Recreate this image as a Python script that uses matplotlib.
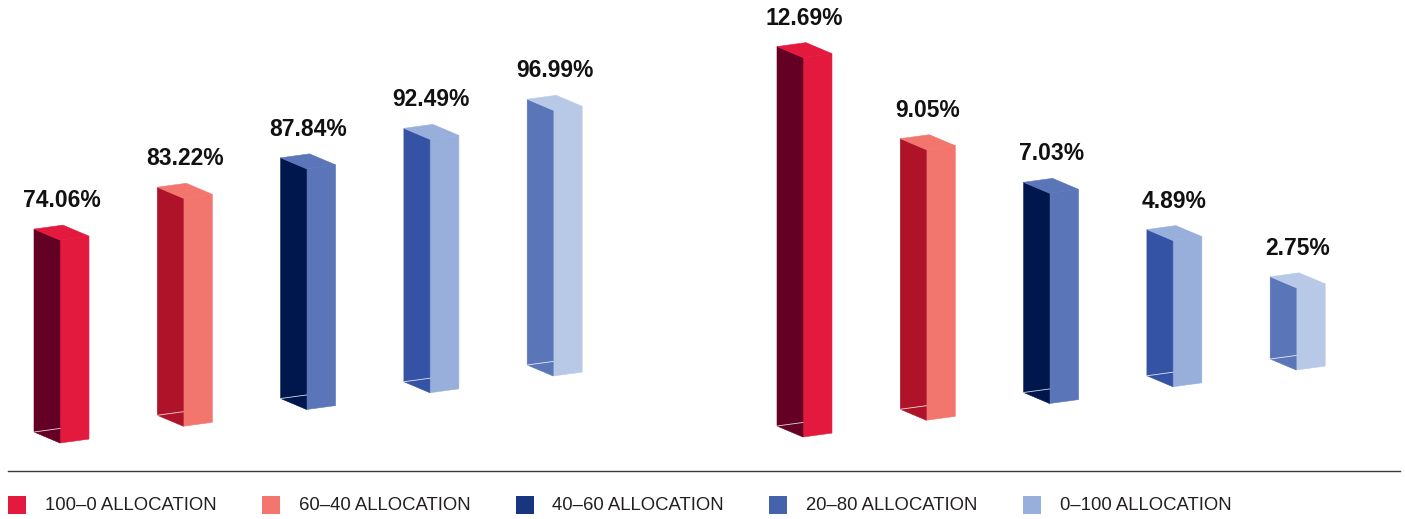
import numpy as np
import matplotlib
matplotlib.use("Agg")
import matplotlib.pyplot as plt
from matplotlib.patches import Polygon, Rectangle
from matplotlib.lines import Line2D
from matplotlib.transforms import Affine2D, IdentityTransform

allocations = ["100–0 ALLOCATION", "60–40 ALLOCATION", "40–60 ALLOCATION",
               "20–80 ALLOCATION", "0–100 ALLOCATION"]
left_values = [74.06, 83.22, 87.84, 92.49, 96.99]
right_values = [12.69, 9.05, 7.03, 4.89, 2.75]

front_colors = ["#E3193E", "#F2766D", "#5A76B8", "#99AFDB", "#B8C9E8"]
side_colors = ["#640024", "#AE1329", "#00174D", "#3553A5", "#5A76B8"]
legend_colors = ["#E31A3E", "#F2766D", "#17367F", "#4563AD", "#99AFDB"]

W, H = 1405, 519
BAR_W = 0.235          # front face width in bar steps
RISE = 16.75           # px the floor climbs per bar
DEPTH = np.array([-26.0, 11.0])  # px offset of the back faces

fig = plt.figure(figsize=(W / 100, H / 100), dpi=100)


def px_axes(x0, y0, w, h):
    return fig.add_axes([x0 / W, y0 / H, w / W, h / H])


def draw_group(ax, values, ymax):
    ax.set_xlim(-0.4, 4.5)
    ax.set_ylim(0, ymax)
    ax.axis("off")
    px_per_unit = ax.bbox.height / ymax
    k = RISE / px_per_unit
    shear = Affine2D(np.array([[1, 0, 0], [k, 1, 0], [0, 0, 1]], dtype=float))
    trans = shear + ax.transData
    for i, v in enumerate(values):
        pts = trans.transform([[i, 0], [i + BAR_W, 0], [i + BAR_W, v], [i, v]])
        fl_b, fr_b, fr_t, fl_t = pts
        faces = [
            (pts, front_colors[i]),
            ([fl_b, fl_t, fl_t + DEPTH, fl_b + DEPTH], side_colors[i]),
            ([fl_t, fr_t, fr_t + DEPTH, fl_t + DEPTH], front_colors[i]),
        ]
        for verts, color in faces:
            ax.add_patch(Polygon(verts, closed=True, transform=IdentityTransform(),
                                 facecolor=color, edgecolor=color, lw=0.4,
                                 clip_on=False))
        # back edge of the floor showing through
        start = fl_b + DEPTH
        t = -DEPTH[0] / (fr_b[0] - fl_b[0])
        end = start + t * (fr_b - fl_b)
        ax.add_line(Line2D([start[0], end[0]], [start[1], end[1]], color="white",
                           lw=0.6, alpha=0.85, transform=IdentityTransform(),
                           clip_on=False))
        cx = ((fl_t + DEPTH)[0] + fr_t[0]) / 2
        top = (fr_t + DEPTH)[1]
        ax.text(cx, top + 18, f"{v:.2f}%", transform=IdentityTransform(),
                ha="center", va="baseline", fontsize=16.5, fontweight="bold",
                color="#111111", family=["Liberation Sans", "DejaVu Sans"])


ax_left = px_axes(60 - 0.4 * 123.3, 76, 4.9 * 123.3, 274)
draw_group(ax_left, left_values, 100)

ax_right = px_axes(803 - 0.4 * 123.3, 82, 4.9 * 123.3, 14 * 29.9)
draw_group(ax_right, right_values, 14)

# divider above the legend
fig.add_artist(Line2D([8 / W, 1400 / W], [(H - 471) / H] * 2,
                      color="#3A3A3A", lw=1.0))

for j, (label, color) in enumerate(zip(allocations, legend_colors)):
    x = 8 + 253.75 * j
    fig.add_artist(Rectangle((x / W, (H - 514) / H), 18 / W, 18 / H,
                             transform=fig.transFigure, facecolor=color,
                             edgecolor="none"))
    fig.text((x + 37) / W, (H - 505) / H, label, va="center", ha="left",
             fontsize=13.3, color="#231F20",
             family=["Liberation Sans Narrow", "Liberation Sans", "DejaVu Sans"])

fig.savefig("out.png", dpi=100)
